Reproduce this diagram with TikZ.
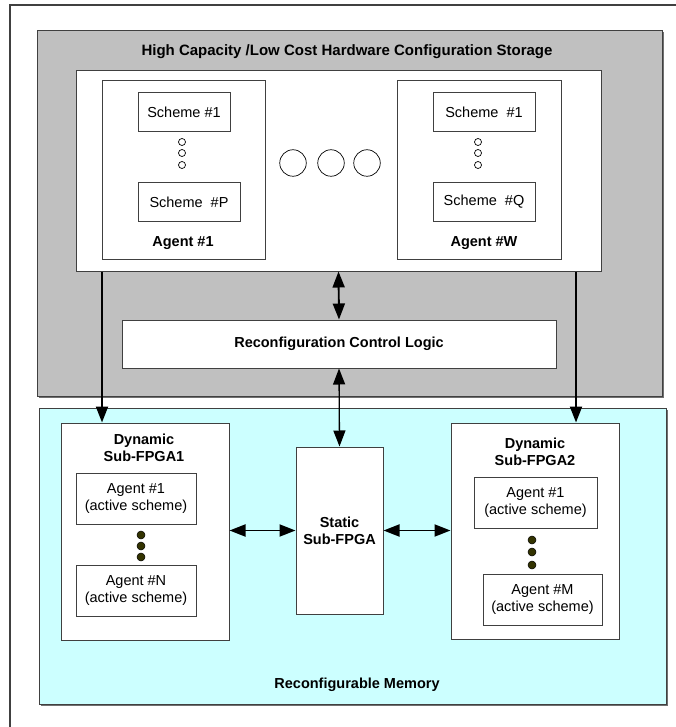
\documentclass[tikz,border=0pt]{standalone}
\usepackage{fontspec}
\setmainfont{Liberation Sans}
\usetikzlibrary{arrows.meta,shadows,calc}

\definecolor{storagegray}{HTML}{C0C0C0}
\definecolor{memcyan}{HTML}{CCFFFF}
\definecolor{edgegray}{HTML}{404040}
\definecolor{dotfill}{HTML}{333300}
\definecolor{shadowgray}{HTML}{707070}

\tikzset{
  txt/.style={font=\fontsize{14.5}{17}\selectfont, align=center},
  btxt/.style={font=\fontsize{14.5}{17}\selectfont\bfseries, align=center, inner sep=0pt},
  box/.style={draw=edgegray, line width=1pt, fill=white, inner sep=0pt, txt},
  panel/.style={draw=edgegray, line width=1pt, inner sep=0pt,
    drop shadow={shadow xshift=1.5pt, shadow yshift=-1.5pt, opacity=1, fill=shadowgray}},
  hollowdot/.style={circle, draw=black, line width=0.7pt, fill=white, inner sep=0pt},
  fulldot/.style={circle, draw=black, line width=0.5pt, fill=dotfill, minimum size=8pt, inner sep=0pt},
  tip/.style={-{Triangle[length=16pt,width=12pt]}},
  dtip/.style={{Triangle[length=16pt,width=12pt]}-{Triangle[length=16pt,width=12pt]}},
  link/.style={line width=1.9pt, black},
  thinlink/.style={line width=1.3pt, black},
}

\begin{document}
\begin{tikzpicture}[x=1pt,y=-1pt]
  \useasboundingbox (0,0) rectangle (676,727);
  \fill[white] (0,0) rectangle (676,727);

  % outer frame (only its top and left edges fall inside the page)
  \draw[edgegray, line width=1.3pt] (10,727) -- (10,5) -- (676,5);

  % configuration storage panel
  \node[panel, fill=storagegray, minimum width=625pt, minimum height=365pt] (store) at (349.5,213.5) {};
  \node[btxt, font=\fontsize{15}{17}\selectfont\bfseries] (storetitle) at (347,52) {High Capacity /Low Cost Hardware Configuration Storage};

  % agent container
  \node[box, minimum width=525pt, minimum height=200pt] (cont) at (338.5,171) {};

  % agent #1
  \node[box, minimum width=163pt, minimum height=178pt] (ag1) at (183.5,170) {};
  \node[box, minimum width=92pt, minimum height=39pt] (s1a) at (184,112.5) {Scheme \#1};
  \node[box, minimum width=102pt, minimum height=38pt] (spa) at (189,202) {Scheme \ \#P};
  \node[hollowdot, minimum size=7pt] (c1a) at (182,142) {};
  \node[hollowdot, minimum size=7pt] (c1b) at (182,153) {};
  \node[hollowdot, minimum size=7pt] (c1c) at (182,165) {};
  \node[btxt] (ag1lbl) at (183,243) {Agent \#1};

  % agent #W
  \node[box, minimum width=164pt, minimum height=178pt] (agw) at (479,170) {};
  \node[box, minimum width=102pt, minimum height=39pt] (s1w) at (484,112.5) {Scheme \ \#1};
  \node[box, minimum width=102pt, minimum height=38pt] (sqw) at (484,202) {Scheme \ \#Q};
  \node[hollowdot, minimum size=7pt] (cwa) at (478,142) {};
  \node[hollowdot, minimum size=7pt] (cwb) at (478,153) {};
  \node[hollowdot, minimum size=7pt] (cwc) at (478,165) {};
  \node[btxt] (agwlbl) at (484,243) {Agent \#W};

  % ellipsis between agents
  \node[hollowdot, minimum size=26.5pt] (e1) at (293,163) {};
  \node[hollowdot, minimum size=26.5pt] (e2) at (331,163) {};
  \node[hollowdot, minimum size=26.5pt] (e3) at (367,163) {};

  % reconfiguration control logic
  \node[box, minimum width=434pt, minimum height=48pt, font=\fontsize{14.5}{17}\selectfont\bfseries] (rcl) at (339,344) {Reconfiguration Control Logic};

  % reconfigurable memory panel
  \node[panel, fill=memcyan, minimum width=627pt, minimum height=296pt] (mem) at (352.5,556) {};
  \node[btxt] (memlbl) at (357,685) {Reconfigurable Memory};

  % dynamic sub-FPGA 1
  \node[box, minimum width=168pt, minimum height=217pt] (dyn1) at (145,531.5) {};
  \node[btxt] (dyn1lbl) at (144,447.5) {Dynamic\\Sub-FPGA1};
  \node[box, minimum width=120pt, minimum height=51pt] (d1a) at (136,498.5) {Agent \#1\\(active scheme)};
  \node[box, minimum width=120pt, minimum height=51pt] (d1n) at (136,590.5) {Agent \#N\\(active scheme)};
  \node[fulldot] (d1p) at (141,535) {};
  \node[fulldot] (d1q) at (141,546) {};
  \node[fulldot] (d1r) at (141,557) {};

  % static sub-FPGA
  \node[box, minimum width=87pt, minimum height=167pt, font=\fontsize{14.5}{17}\selectfont\bfseries] (stat) at (339.5,530.5) {Static\\Sub-FPGA};

  % dynamic sub-FPGA 2
  \node[box, minimum width=168pt, minimum height=216pt] (dyn2) at (535,531) {};
  \node[btxt] (dyn2lbl) at (535,451.5) {Dynamic\\Sub-FPGA2};
  \node[box, minimum width=123pt, minimum height=51pt] (d2a) at (535.5,502.5) {Agent \#1\\(active scheme)};
  \node[box, minimum width=119pt, minimum height=51pt] (d2m) at (542.5,599.5) {Agent \#M\\(active scheme)};
  \node[fulldot] (d2p) at (532,540) {};
  \node[fulldot] (d2q) at (532,552) {};
  \node[fulldot] (d2r) at (532,565) {};

  % connectors
  \coordinate (ax1) at (102,423);
  \coordinate (ax2) at (576,423);
  \draw[link, tip] (cont.south -| ax1) -- (dyn1.north -| ax1);
  \draw[link, tip] (cont.south -| ax2) -- (dyn2.north -| ax2);
  \draw[link, dtip] (cont.south) -- (rcl.north);
  \draw[thinlink, dtip] (rcl.south) -- (stat.north);
  \draw[link, dtip] (dyn1.east |- stat.west) -- (stat.west);
  \draw[link, dtip] (stat.east) -- (dyn2.west |- stat.east);
\end{tikzpicture}
\end{document}
